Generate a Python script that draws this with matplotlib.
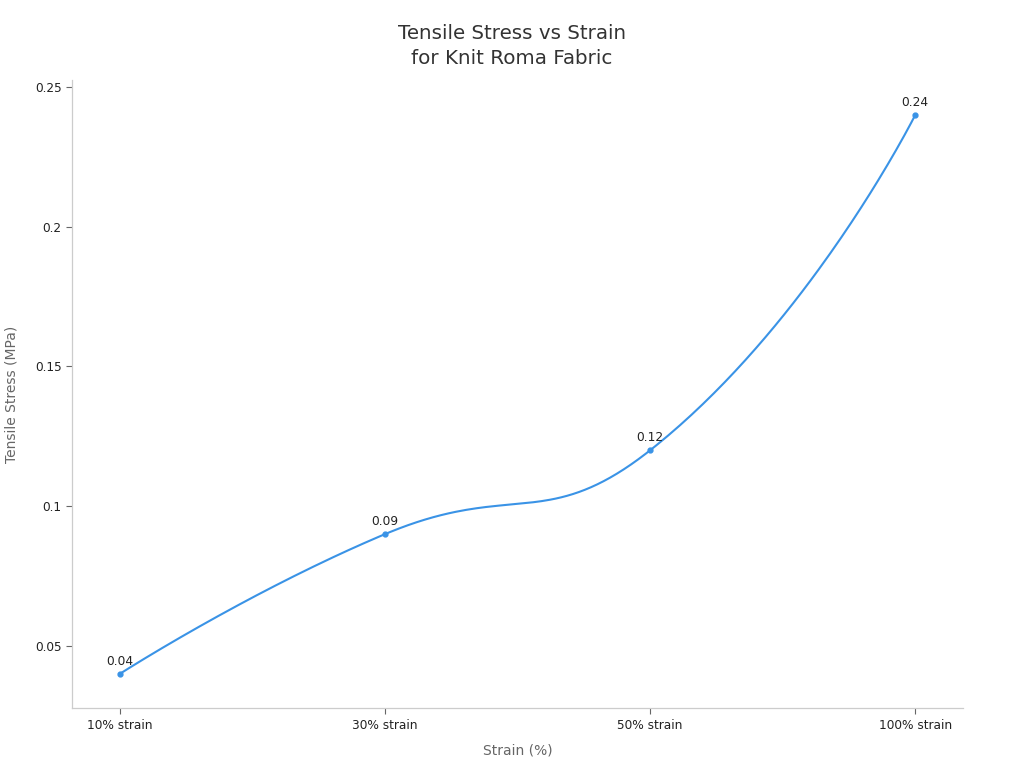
import numpy as np
import matplotlib
matplotlib.use("Agg")
import matplotlib.pyplot as plt

# data
categories = ["10% strain", "30% strain", "50% strain", "100% strain"]
stress = [0.04, 0.09, 0.12, 0.24]
y_ticks = [0.05, 0.1, 0.15, 0.2, 0.25]
y_tick_labels = ["0.05", "0.1", "0.15", "0.2", "0.25"]

LINE_COLOR = "#3a93e6"
AXIS_COLOR = "#cccccc"
TEXT_COLOR = "#333333"

plt.rcParams['font.family'] = ['DejaVu Sans']


def smooth_curve(ax, xs, ys, smooth=0.5, steps=80):
    # bezier smoothing computed in pixel space; end points keep their own control point
    pts = ax.transData.transform(np.column_stack([xs, ys]))
    n = len(pts)
    cps_next, cps_prev = [], []
    for i in range(n):
        p = pts[i]
        if i == 0 or i == n - 1:
            cps_next.append(p)
            cps_prev.append(p)
            continue
        prev, nxt = pts[i - 1], pts[i + 1]
        v = nxt - prev
        d0 = np.hypot(*(p - prev))
        d1 = np.hypot(*(nxt - p))
        ratio = d1 / (d0 + d1)
        cps_next.append(p + v * smooth * ratio)
        cps_prev.append(p - v * smooth * (1 - ratio))
    t = np.linspace(0, 1, steps)[:, None]
    out = [pts[:1]]
    for i in range(n - 1):
        p0, c1, c2, p3 = pts[i], cps_next[i], cps_prev[i + 1], pts[i + 1]
        seg = ((1 - t) ** 3) * p0 + 3 * ((1 - t) ** 2) * t * c1 + 3 * (1 - t) * t ** 2 * c2 + t ** 3 * p3
        out.append(seg[1:])
    out = ax.transData.inverted().transform(np.vstack(out))
    return out[:, 0], out[:, 1]


fig = plt.figure(figsize=(10.24, 7.68), dpi=100)
ax = fig.add_axes([72 / 1024, 60 / 768, 891 / 1024, 628 / 768])

x = np.arange(len(categories))
ax.set_xlim(-0.18, len(categories) - 1 + 0.18)
ax.set_ylim(0.0278, 0.2525)

cx, cy = smooth_curve(ax, x, stress)
ax.plot(cx, cy, color=LINE_COLOR, linewidth=1.5, solid_capstyle="round", zorder=3)
ax.plot(x, stress, "o", color=LINE_COLOR, markersize=3.5, zorder=4)

for xi, yi in zip(x, stress):
    ax.annotate(f"{yi:g}", (xi, yi), xytext=(0, 4.5), textcoords="offset points",
                ha="center", va="bottom", fontsize=8.8, color="#222222")

ax.set_xticks(x)
ax.set_xticklabels(categories)
ax.set_yticks(y_ticks)
ax.set_yticklabels(y_tick_labels)
ax.tick_params(axis="both", labelsize=8.7, labelcolor="#222222", color="#666666",
               length=4, width=0.8)
ax.tick_params(axis="x", pad=4)

for side in ["top", "right"]:
    ax.spines[side].set_visible(False)
for side in ["left", "bottom"]:
    ax.spines[side].set_color(AXIS_COLOR)
    ax.spines[side].set_linewidth(0.9)

ax.set_xlabel("Strain (%)", fontsize=10, color="#666666")
ax.set_ylabel("Tensile Stress (MPa)", fontsize=10, color="#666666")
ax.xaxis.set_label_coords(0.5, (708 - 751) / 628)
ax.yaxis.set_label_coords((12 - 72) / 891, 0.5)
ax.xaxis.label.set_va("center")
ax.yaxis.label.set_va("center")

fig.text(0.5, 1 - 46 / 768, "Tensile Stress vs Strain\nfor Knit Roma Fabric",
         ha="center", va="center", fontsize=14.3, color=TEXT_COLOR, linespacing=1.45)

fig.savefig("out.png", dpi=100)
